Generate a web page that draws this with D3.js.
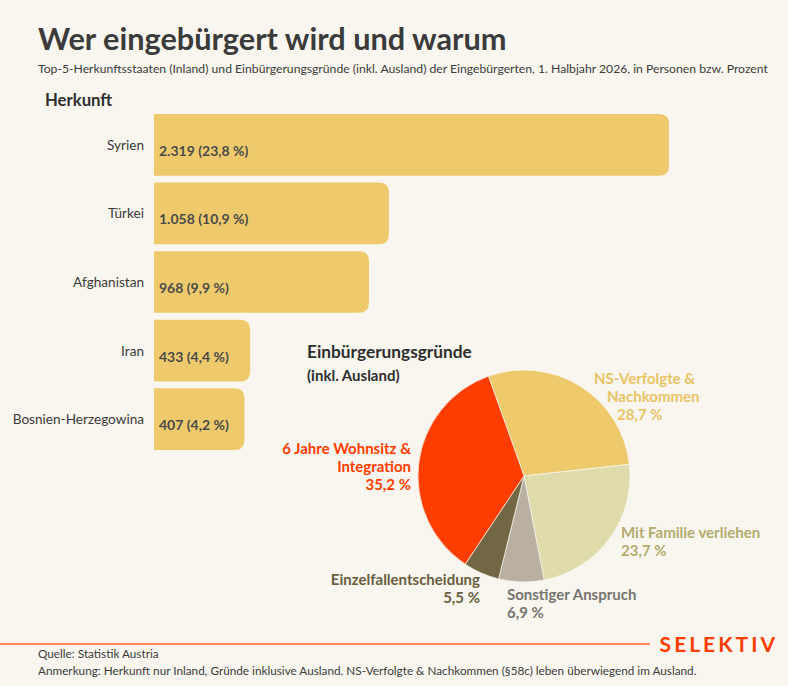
<!DOCTYPE html>
<html>
<head>
<meta charset="utf-8">
<script src="https://cdn.jsdelivr.net/npm/d3@7"></script>
<style>
  body { margin: 0; background: #f8f6ee; }
  svg { display: block; font-family: Lato, "Open Sans", sans-serif; }
</style>
</head>
<body>
<div id="canvas"></div>
<script>
// Herkunft (Top 5, Inland)
var countries = ["Syrien", "Türkei", "Afghanistan", "Iran", "Bosnien-Herzegowina"];
var persons = [2319, 1058, 968, 433, 407];
var shares = ["23,8", "10,9", "9,9", "4,4", "4,2"];

// Einbürgerungsgründe (inkl. Ausland), clockwise order
var reasons = ["NS-Verfolgte & Nachkommen", "Mit Familie verliehen", "Sonstiger Anspruch", "Einzelfallentscheidung", "6 Jahre Wohnsitz & Integration"];
var reasonShares = [28.7, 23.7, 6.9, 5.5, 35.2];
var reasonLines = [["NS-Verfolgte &", "Nachkommen"], ["Mit Familie verliehen"], ["Sonstiger Anspruch"], ["Einzelfallentscheidung"], ["6 Jahre Wohnsitz &", "Integration"]];

var reasonColors = ["#efca6c", "#e0dbab", "#b9b0a2", "#736644", "#ff3d00"];
var reasonTextColors = ["#e9c467", "#b4ab6e", "#777570", "#6a5d3d", "#ff3d00"];

var W = 788, H = 686;
var svg = d3.select("#canvas").append("svg")
  .attr("width", W)
  .attr("height", H);

svg.append("rect").attr("width", W).attr("height", H).attr("fill", "#f8f6ee");

// title + subtitle
svg.append("text")
  .attr("x", 38).attr("y", 50)
  .attr("font-size", "30.7px").attr("font-weight", "bold")
  .attr("fill", "#3b3b3b")
  .text("Wer eingebürgert wird und warum");

svg.append("text")
  .attr("x", 38).attr("y", 73)
  .attr("font-size", "12.2px")
  .attr("fill", "#3b3b3b")
  .text("Top-5-Herkunftsstaaten (Inland) und Einbürgerungsgründe (inkl. Ausland) der Eingebürgerten, 1. Halbjahr 2026, in Personen bzw. Prozent");

svg.append("text")
  .attr("x", 45).attr("y", 106)
  .attr("font-size", "16.7px").attr("font-weight", "bold")
  .attr("fill", "#2e2e2e")
  .text("Herkunft");

// bars
var x = d3.scaleLinear()
  .domain([0, d3.max(persons)])
  .range([154, 669]);
var y = d3.scaleBand()
  .domain(countries)
  .range([114, 450])
  .paddingInner(0.1)
  .paddingOuter(0);

function barPath(x0, y0, x1, h, r) {
  r = Math.min(r, (x1 - x0) / 2, h / 2);
  return "M" + x0 + "," + y0 +
    "H" + (x1 - r) +
    "Q" + x1 + "," + y0 + " " + x1 + "," + (y0 + r) +
    "V" + (y0 + h - r) +
    "Q" + x1 + "," + (y0 + h) + " " + (x1 - r) + "," + (y0 + h) +
    "H" + x0 + "Z";
}

var bars = svg.append("g").selectAll("g").data(countries).enter().append("g");

bars.append("path")
  .attr("d", function(d, i) { return barPath(x(0), y(d), x(persons[i]), y.bandwidth(), 10); })
  .attr("fill", "#efca6c");

bars.append("text")
  .attr("x", x(0) - 10)
  .attr("y", function(d) { return y(d) + y.bandwidth() / 2 + 5; })
  .attr("text-anchor", "end")
  .attr("font-size", "13.6px")
  .attr("fill", "#3b3b3b")
  .text(function(d) { return d; });

bars.append("text")
  .attr("x", x(0) + 5)
  .attr("y", function(d) { return y(d) + y.bandwidth() / 2 + 11; })
  .attr("font-size", "14px").attr("font-weight", "bold")
  .attr("fill", "#4a4a4a")
  .text(function(d, i) { return d3.format(",")(persons[i]).replace(/,/g, ".") + " (" + shares[i] + " %)"; });

// pie
var cx = 524, cy = 476, radius = 106;
var start = -19.6 * Math.PI / 180;
var pie = d3.pie().sort(null).startAngle(start).endAngle(start + 2 * Math.PI);
var arc = d3.arc().innerRadius(0).outerRadius(radius);

var pg = svg.append("g").attr("transform", "translate(" + cx + "," + cy + ")");
pg.selectAll("path")
  .data(pie(reasonShares))
  .enter().append("path")
  .attr("d", arc)
  .attr("fill", function(d, i) { return reasonColors[i]; })
  .attr("stroke", "#f8f6ee")
  .attr("stroke-width", 0.7);

svg.append("text")
  .attr("x", 307).attr("y", 358)
  .attr("font-size", "17.3px").attr("font-weight", "bold")
  .attr("fill", "#2e2e2e")
  .text("Einbürgerungsgründe");
svg.append("text")
  .attr("x", 307).attr("y", 381)
  .attr("font-size", "15px").attr("font-weight", "bold")
  .attr("fill", "#2e2e2e")
  .text("(inkl. Ausland)");

// label layout: anchor, first baseline, x per line
var labelLayout = [
  { anchor: "start", y: 384, xs: [594, 607, 617] },
  { anchor: "start", y: 538, xs: [621, 621] },
  { anchor: "start", y: 600, xs: [507, 507] },
  { anchor: "end", y: 585, xs: [480, 480] },
  { anchor: "end", y: 454, xs: [411, 411, 411] }
];

reasons.forEach(function(r, i) {
  var lines = reasonLines[i].concat([String(reasonShares[i]).replace(".", ",") + " %"]);
  var t = svg.append("text")
    .attr("text-anchor", labelLayout[i].anchor)
    .attr("font-size", "15px").attr("font-weight", "bold")
    .attr("fill", reasonTextColors[i]);
  lines.forEach(function(l, j) {
    t.append("tspan")
      .attr("x", labelLayout[i].xs[j])
      .attr("y", labelLayout[i].y + j * 18)
      .text(l);
  });
});

// footer
svg.append("line")
  .attr("x1", 0).attr("x2", 650)
  .attr("y1", 644).attr("y2", 644)
  .attr("stroke", "#ff8a62").attr("stroke-width", 2);

svg.append("text")
  .attr("x", 778).attr("y", 652)
  .attr("text-anchor", "end")
  .attr("font-size", "21px").attr("font-weight", "bold")
  .attr("letter-spacing", "3px")
  .attr("fill", "#ff3d00")
  .text("SELEKTIV");

svg.append("text")
  .attr("x", 38).attr("y", 658)
  .attr("font-size", "11.75px")
  .attr("fill", "#3b3b3b")
  .text("Quelle: Statistik Austria");
svg.append("text")
  .attr("x", 38).attr("y", 675)
  .attr("font-size", "11.75px")
  .attr("fill", "#3b3b3b")
  .text("Anmerkung: Herkunft nur Inland, Gründe inklusive Ausland. NS-Verfolgte & Nachkommen (§58c) leben überwiegend im Ausland.");
</script>
</body>
</html>
